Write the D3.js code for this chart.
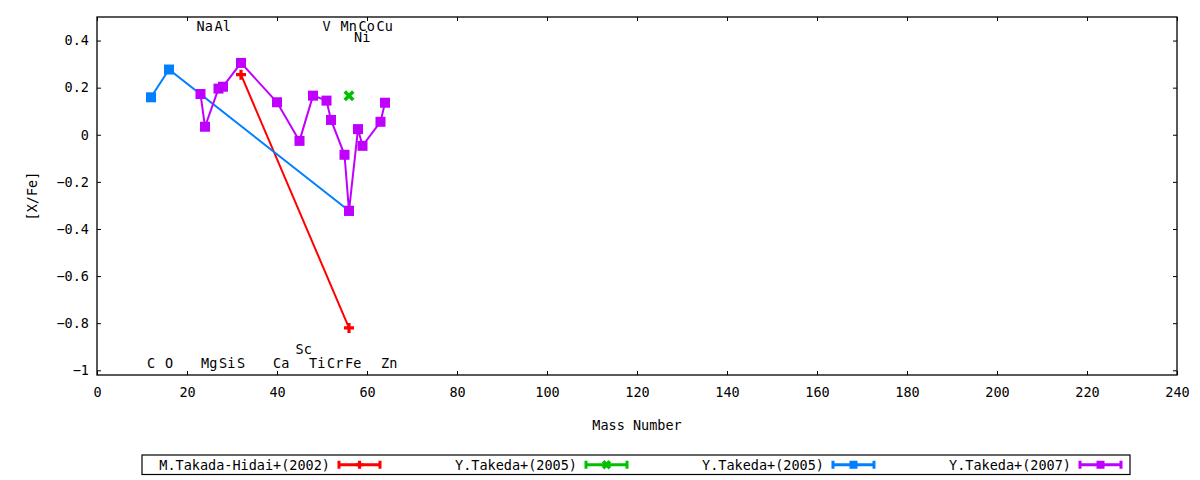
<!DOCTYPE html>
<html>
<head>
<meta charset="utf-8">
<script src="https://cdn.jsdelivr.net/npm/d3@7"></script>
<style>
  html, body { margin: 0; padding: 0; background: #fff; }
  text { font-family: "DejaVu Sans Mono", monospace; font-size: 13.5px; fill: #000; }
</style>
</head>
<body>
<svg id="chart" width="1200" height="480"></svg>
<script>
// ---------- data ----------
const seriesNames = ["M.Takada-Hidai+(2002)", "Y.Takeda+(2005)", "Y.Takeda+(2005)", "Y.Takeda+(2007)"];
const seriesColors = ["#ff0000", "#00c000", "#0080ff", "#c000ff"];
const seriesMarkers = ["plus", "cross", "square", "square"];

const takadaMass = [32, 56];
const takadaVal  = [0.255, -0.82];

const takeda05aMass = [56];
const takeda05aVal  = [0.166];

const takeda05bMass = [12, 16, 56];
const takeda05bVal  = [0.159, 0.277, -0.323];

const takeda07Mass = [23, 24, 27, 28, 32, 40, 45, 48, 51, 52, 55, 56, 58, 59, 63, 64];
const takeda07Val  = [0.173, 0.034, 0.196, 0.204, 0.305, 0.138, -0.026, 0.166, 0.145, 0.063, -0.085, -0.323, 0.024, -0.047, 0.055, 0.136];

const elementNames = ["Na","Al","V","Mn","Co","Cu","Ni","C","O","Mg","Si","S","Ca","Ti","Cr","Fe","Zn","Sc"];
const elementMass  = [23, 27, 51, 55, 59, 63, 58, 12, 16, 24, 28, 32, 40, 48, 52, 56, 64, 45];
const elementY     = [0.46,0.46,0.46,0.46,0.46,0.46,0.414,-0.97,-0.97,-0.97,-0.97,-0.97,-0.97,-0.97,-0.97,-0.97,-0.97,-0.912];

const xTicks = [0, 20, 40, 60, 80, 100, 120, 140, 160, 180, 200, 220, 240];
const yTicks = [0.4, 0.2, 0, -0.2, -0.4, -0.6, -0.8, -1];

const xTitle = "Mass Number";
const yTitle = "[X/Fe]";

// ---------- layout ----------
const svg = d3.select("#chart");
const L = 97, R = 1177, T = 17, B = 375;
const x = d3.scaleLinear().domain([0, 240]).range([L, R]);
const y = d3.scaleLinear().domain([-1.02, 0.5]).range([B, T]);

const series = [
  { mass: takadaMass, val: takadaVal },
  { mass: takeda05aMass, val: takeda05aVal },
  { mass: takeda05bMass, val: takeda05bVal },
  { mass: takeda07Mass, val: takeda07Val }
].map((s, i) => ({
  name: seriesNames[i], color: seriesColors[i], marker: seriesMarkers[i],
  pts: s.mass.map((m, j) => [m, s.val[j]])
}));

// ---------- axes ----------
const tickLen = 4;
const axB = d3.axisBottom(x).tickValues(xTicks).tickSize(-tickLen).tickPadding(12).tickFormat(d3.format("d"));
const axT = d3.axisTop(x).tickValues(xTicks).tickSize(-tickLen).tickFormat("");
const axL = d3.axisLeft(y).tickValues(yTicks).tickSize(-tickLen).tickPadding(8).tickFormat(d => d === 0 ? "0" : d3.format(".1f")(d).replace(/\.0$/, ""));
const axR = d3.axisRight(y).tickValues(yTicks).tickSize(-tickLen).tickFormat("");

function styleAxis(g) {
  g.select(".domain").remove();
  g.selectAll(".tick line").attr("stroke", "#000").attr("stroke-width", 1);
  g.selectAll(".tick text").attr("font-family", null).attr("font-size", null);
}
svg.append("g").attr("transform", `translate(0,${B})`).call(axB).call(styleAxis)
   .selectAll(".tick text").attr("dy", "0.71em");
svg.append("g").attr("transform", `translate(0,${T})`).call(axT).call(styleAxis);
svg.append("g").attr("transform", `translate(${L},0)`).call(axL).call(styleAxis);
svg.append("g").attr("transform", `translate(${R},0)`).call(axR).call(styleAxis);

// frame
svg.append("rect").attr("x", L).attr("y", T).attr("width", R - L).attr("height", B - T)
   .attr("fill", "none").attr("stroke", "#000").attr("stroke-width", 1.3);

// axis titles
svg.append("text").attr("x", (L + R) / 2).attr("y", 425).attr("dy", "0.36em")
   .attr("text-anchor", "middle").text(xTitle);
svg.append("text").attr("transform", `translate(32,${(T + B) / 2}) rotate(-90)`)
   .attr("dy", "0.36em").attr("text-anchor", "middle").text(yTitle);

// ---------- markers ----------
function drawMarker(g, type, cx, cy, color, size) {
  const h = size / 2;
  if (type === "square") {
    g.append("rect").attr("x", cx - h).attr("y", cy - h).attr("width", size).attr("height", size)
     .attr("fill", color);
  } else if (type === "plus") {
    g.append("path").attr("d", `M${cx - h},${cy}H${cx + h}M${cx},${cy - h}V${cy + h}`)
     .attr("stroke", color).attr("stroke-width", 3.2).attr("fill", "none");
  } else if (type === "cross") {
    const k = h * 0.85;
    g.append("path").attr("d", `M${cx - k},${cy - k}L${cx + k},${cy + k}M${cx - k},${cy + k}L${cx + k},${cy - k}`)
     .attr("stroke", color).attr("stroke-width", 3.6).attr("fill", "none");
  }
}

// ---------- series ----------
const clip = svg.append("g");
const line = d3.line().x(d => x(d[0])).y(d => y(d[1]));
series.forEach(s => {
  const g = clip.append("g");
  if (s.pts.length > 1) {
    g.append("path").attr("d", line(s.pts)).attr("fill", "none")
     .attr("stroke", s.color).attr("stroke-width", 2);
  }
  s.pts.forEach(p => drawMarker(g, s.marker, x(p[0]), y(p[1]), s.color, 10));
});

// ---------- element labels ----------
svg.append("g").selectAll("text").data(elementNames).join("text")
  .attr("x", (d, i) => x(elementMass[i]) - 4)
  .attr("y", (d, i) => y(elementY[i]))
  .attr("dy", "0.36em")
  .attr("text-anchor", "start")
  .text(d => d);

// ---------- legend ----------
const legX0 = 142, legX1 = 1130, legY0 = 455, legY1 = 474.5;
svg.append("rect").attr("x", legX0).attr("y", legY0).attr("width", legX1 - legX0).attr("height", legY1 - legY0)
   .attr("fill", "none").attr("stroke", "#000").attr("stroke-width", 1.2);
const legCy = (legY0 + legY1) / 2;
series.forEach((s, i) => {
  const textEnd = 330 + i * 247;
  const sx0 = textEnd + 8, sx1 = sx0 + 43;
  const g = svg.append("g");
  g.append("text").attr("x", textEnd).attr("y", legCy).attr("dy", "0.36em")
   .attr("text-anchor", "end").text(s.name);
  g.append("path")
   .attr("d", `M${sx0},${legCy}H${sx1}M${sx0 + 1},${legCy - 4}V${legCy + 4}M${sx1 - 1},${legCy - 4}V${legCy + 4}`)
   .attr("stroke", s.color).attr("stroke-width", 3).attr("fill", "none");
  drawMarker(g, s.marker, (sx0 + sx1) / 2, legCy, s.color, 8);
});
</script>
</body>
</html>
